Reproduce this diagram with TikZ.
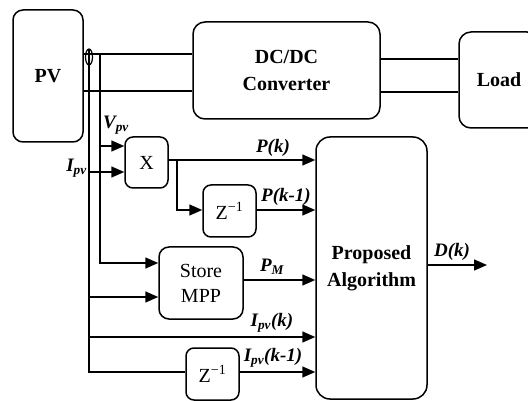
\documentclass[tikz,border=0pt]{standalone}
\usepackage{fontspec}
\setmainfont{Liberation Serif}
\usetikzlibrary{arrows.meta}
\begin{document}
\begin{tikzpicture}[x=1pt,y=-1pt,
  box/.style={draw,line width=1.5pt,rounded corners=8pt,inner sep=0pt,align=center},
  bigb/.style={font=\fontsize{20}{27}\selectfont\bfseries},
  reg/.style={font=\fontsize{20}{25}\selectfont},
  wire/.style={line width=1.5pt},
  arr/.style={wire,-{Triangle[length=13pt,width=11pt]}},
  lbl/.style={inner sep=0pt,font=\fontsize{19}{22}\selectfont\bfseries\itshape}]
\useasboundingbox (0,0) rectangle (528,401);
% blocks
\node[box,bigb,rounded corners=10pt,minimum width=70pt,minimum height=132pt] (pv) at (48,76) {PV};
\node[box,bigb,rounded corners=12pt,minimum width=187pt,minimum height=97pt] (dc) at (286.5,70.5) {DC/DC\\Converter};
\node[box,bigb,rounded corners=12pt,minimum width=80pt,minimum height=96pt] (load) at (499,80) {Load};
\node[box,reg,minimum width=43pt,minimum height=51pt] (x) at (146.5,162.5) {X};
\node[box,reg,minimum width=53pt,minimum height=52pt] (z1) at (229.5,211) {Z\textsuperscript{−1}};
\node[box,reg,rounded corners=10pt,minimum width=84pt,minimum height=72pt] (store) at (201,283) {Store\\MPP};
\node[box,reg,minimum width=53pt,minimum height=52pt] (z2) at (212.5,374) {Z\textsuperscript{−1}};
\node[box,bigb,rounded corners=14pt,minimum width=111pt,minimum height=262pt] (pa) at (371.5,268) {Proposed\\Algorithm};
% coordinates
\coordinate (sens) at (89,57);
\coordinate (itop) at (89,49);
\coordinate (vtop) at (100,54);
\coordinate (br) at (177,160);
\coordinate (dout) at (487,265);
% power wires
\draw[wire] (pv.east |- 0,54) -- (dc.west |- 0,54);
\draw[wire] (pv.east |- 0,91) -- (dc.west |- 0,91);
\draw[wire] (dc.east |- 0,59) -- (load.west |- 0,59);
\draw[wire] (dc.east |- 0,92) -- (load.west |- 0,92);
\draw[line width=1.2pt] (sens) ellipse [x radius=3.5, y radius=8];
% measurement lines
\draw[wire] (itop) -- (89,372) -- (z2.west |- 0,372);
\draw[arr] (vtop) -- (100,263) -- (store.west |- 0,263);
\draw[arr] (100,146) -- (x.west |- 0,146);
\draw[arr] (89,172) -- (x.west |- 0,172);
\draw[arr] (89,297) -- (store.west |- 0,297);
\draw[arr] (89,337) -- (pa.west |- 0,337);
\draw[arr] (x.east |- 0,160) -- (pa.west |- 0,160);
\draw[arr] (br) -- (177,210) -- (z1.west |- 0,210);
\draw[arr] (z1.east |- 0,210) -- (pa.west |- 0,210);
\draw[arr] (store.east |- 0,280) -- (pa.west |- 0,280);
\draw[arr] (z2.east |- 0,372) -- (pa.west |- 0,372);
\draw[arr] (pa.east |- dout) -- (dout);
% labels
\node[lbl] (lv) at (116,125) {V\textsubscript{pv}};
\node[lbl,anchor=east] (li) at (87,168) {I\textsubscript{pv}};
\node[lbl] (lpk) at (273,148) {P(k)};
\node[lbl] (lpk1) at (286,197) {P(k-1)};
\node[lbl] (lpm) at (272,267) {P\textsubscript{M}};
\node[lbl] (lik) at (272,323) {I\textsubscript{pv}(k)};
\node[lbl] (lik1) at (273,358) {I\textsubscript{pv}(k-1)};
\node[lbl] (ld) at (452,252) {D(k)};
\end{tikzpicture}
\end{document}
